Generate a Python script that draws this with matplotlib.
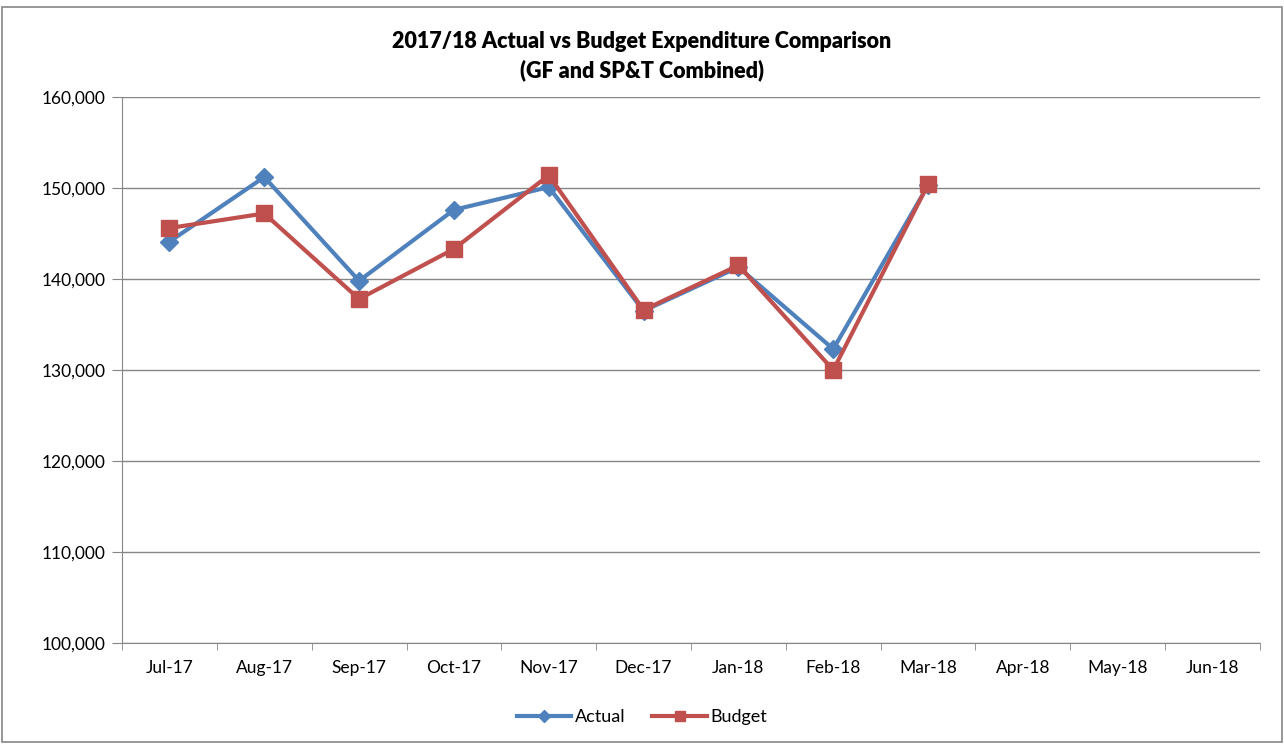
import matplotlib
matplotlib.use("Agg")
import matplotlib.pyplot as plt
from matplotlib.ticker import FuncFormatter, MultipleLocator
from matplotlib.patches import Rectangle
from matplotlib.lines import Line2D

months = ["Jul-17", "Aug-17", "Sep-17", "Oct-17", "Nov-17", "Dec-17",
          "Jan-18", "Feb-18", "Mar-18", "Apr-18", "May-18", "Jun-18"]
actual = [144100, 151200, 139800, 147600, 150100, 136500, 141300, 132300, 150300]
budget = [145600, 147200, 137800, 143300, 151400, 136600, 141500, 130000, 150400]

plt.rcParams['font.family'] = ['Lato', 'DejaVu Sans']

fig = plt.figure(figsize=(12.84, 7.44), dpi=100)
ax = fig.add_axes([122/1284, 1 - 643/744, (1260-122)/1284, (643-97)/744])

x_a = list(range(len(actual)))
x_b = list(range(len(budget)))
ax.plot(x_a, actual, color="#4F81BD", lw=3, marker="D", ms=9, mfc="#4F81BD",
        mec="#4F81BD", zorder=3)
ax.plot(x_b, budget, color="#C0504D", lw=3, marker="s", ms=11, mfc="#C0504D",
        mec="#C0504D", zorder=4)

ax.set_xlim(-0.5, len(months) - 0.5)
ax.set_ylim(100000, 160000)
ax.yaxis.set_major_locator(MultipleLocator(10000))
ax.yaxis.set_major_formatter(FuncFormatter(lambda v, p: f"{int(v):,}"))
ax.set_xticks(range(len(months)))
ax.set_xticklabels(months)
ax.set_xticks([i + 0.5 for i in range(-1, len(months))], minor=True)
ax.tick_params(axis='x', which='major', length=0, pad=12, labelsize=12.5)
ax.tick_params(axis='x', which='minor', length=5, color="#868686", direction='out')
ax.tick_params(axis='y', length=7, color="#868686", direction='out', labelsize=12.5, pad=5)
ax.grid(axis='y', color="#868686", lw=1)
ax.set_axisbelow(True)
for s in ['top', 'right']:
    ax.spines[s].set_visible(False)
for s in ['left', 'bottom']:
    ax.spines[s].set_color("#868686")

fig.text(0.5, 1 - 42/744, "2017/18 Actual vs Budget Expenditure Comparison",
         ha='center', va='center', fontsize=15.5, fontweight='heavy')
fig.text(0.5, 1 - 70/744, "(GF and SP&T Combined)",
         ha='center', va='center', fontsize=15.5, fontweight='heavy')

handles = [Line2D([], [], color="#4F81BD", lw=3, marker="D", ms=6),
           Line2D([], [], color="#C0504D", lw=3, marker="s", ms=7)]
fig.legend(handles, ["Actual", "Budget"], loc='center',
           bbox_to_anchor=(0.5, 1 - 717/744), ncol=2,
           frameon=False, fontsize=13, handlelength=3.0, columnspacing=1.5,
           handletextpad=0.2)

fig.patches.append(Rectangle((2/1284, 2/744), 1 - 4/1284, 1 - 9/744,
                             transform=fig.transFigure, fill=False,
                             edgecolor="#868686", lw=1.2))

fig.savefig("out.png", dpi=100)
